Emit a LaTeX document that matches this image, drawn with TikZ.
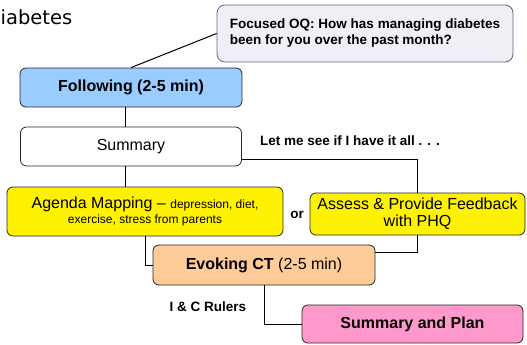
\documentclass[tikz,border=0pt]{standalone}
\usepackage{fontspec}
\setmainfont{Liberation Sans}
\newfontfamily\titlefont{DejaVu Sans}

\definecolor{oqfill}{HTML}{EEF0F6}
\definecolor{oqline}{HTML}{5F6386}
\definecolor{followfill}{HTML}{99CCFF}
\definecolor{evokefill}{HTML}{FFCC99}
\definecolor{planfill}{HTML}{FF99CC}

\tikzset{
  box/.style={draw=black!85, line width=0.8pt, rounded corners=6pt, inner sep=2pt,
    align=center, font=\fontsize{16}{18}\selectfont},
  link/.style={line width=1pt},
  say/.style={font=\bfseries\fontsize{13.5}{16}\selectfont},
}

\begin{document}
\begin{tikzpicture}[x=1pt,y=-1pt]
\useasboundingbox (0,0) rectangle (527,345);
\node[anchor=base west,inner sep=0pt,font=\titlefont\fontsize{19.5}{24}\selectfont] (title) at (0.5,25) {iabetes};
\node[box,draw=oqline,fill=oqfill,rounded corners=8pt,minimum width=296pt,minimum height=57pt,
  align=left,font=\bfseries\fontsize{13.5}{16}\selectfont] (focus) at (365,33.5)
  {Focused OQ: How has managing diabetes\\been for you over the past month?};
\node[box,fill=followfill,minimum width=222pt,minimum height=39pt,font=\bfseries\fontsize{16}{18}\selectfont]
  (follow) at (131,87.5) {Following (2-5 min)};
\node[box,fill=white,minimum width=221pt,minimum height=39pt] (summ) at (131,146.5) {Summary};
\node[box,fill=yellow,minimum width=276pt,minimum height=49pt,font=\fontsize{16}{15}\selectfont]
  (agenda) at (145,211.5)
  {Agenda Mapping -- {\fontsize{12}{15}\selectfont depression, diet,}\\{\fontsize{12}{15}\selectfont exercise, stress from parents}};
\node[box,fill=yellow,minimum width=215pt,minimum height=42pt,font=\fontsize{16}{17}\selectfont]
  (assess) at (417.5,214) {Assess \& Provide Feedback\\with PHQ};
\node[box,fill=evokefill,minimum width=222pt,minimum height=40pt] (evoke) at (264,265)
  {\textbf{Evoking CT} (2-5 min)};
\node[box,fill=planfill,minimum width=221pt,minimum height=38pt,font=\bfseries\fontsize{16}{18}\selectfont]
  (plan) at (412.5,324) {Summary and Plan};

\node[say] (check) at (350,141) {Let me see if I have it all . . .};
\node[say] (or) at (297,215) {or};
\node[say] (rulers) at (208,307) {I \& C Rulers};

\draw[link] (follow.north) -- (focus.west);
\draw[link] ([xshift=-6pt]follow.south) -- ([xshift=-6pt]summ.north);
\draw[link] ([xshift=-6pt]summ.south) -- ([xshift=-6pt]summ.south |- agenda.north);
\draw[link] ([yshift=-12.5pt]summ.east) -| (assess.north);
\draw[link] (agenda.south) |- (evoke.west);
\draw[link] (assess.south) |- ([yshift=13pt]evoke.east);
\draw[link] (evoke.south) |- (plan.west);
\end{tikzpicture}
\end{document}
